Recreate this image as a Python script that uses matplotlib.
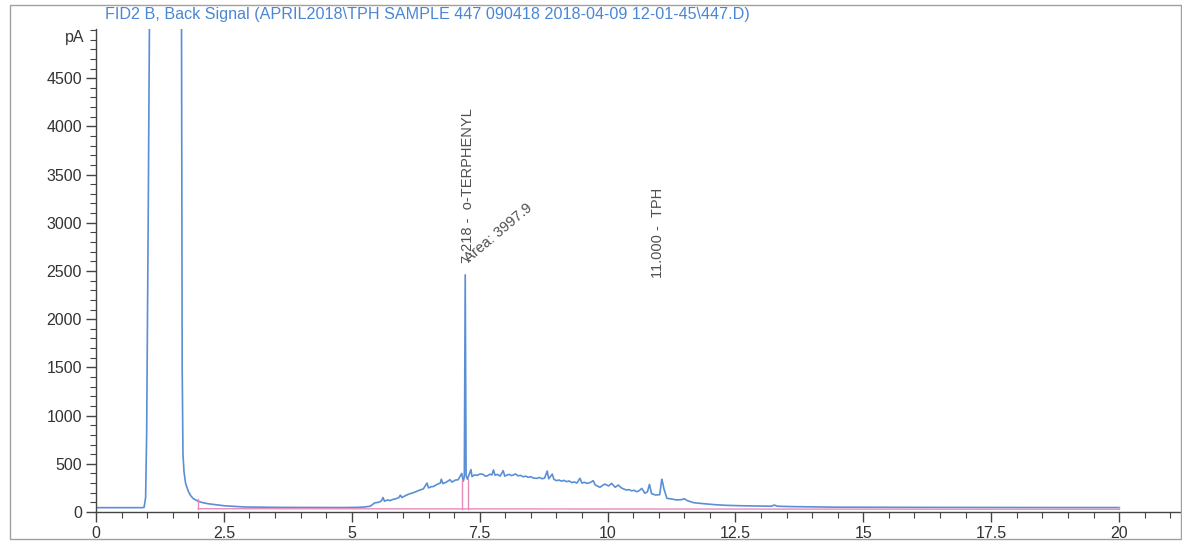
import matplotlib
matplotlib.use("Agg")
import matplotlib.pyplot as plt
from matplotlib.ticker import MultipleLocator, FixedLocator
from matplotlib.patches import Rectangle

plt.rcParams['font.family'] = ['Liberation Sans', 'DejaVu Sans']

# chromatogram trace (min, pA)
time = [0.00, 0.50, 0.90, 0.94, 0.97, 0.99, 1.02, 1.05, 1.67, 1.685, 1.70, 1.72,
        1.75, 1.80, 1.85, 1.90, 1.95, 2.00, 2.10, 2.20, 2.35, 2.50, 2.70, 2.90,
        3.20, 3.60, 4.00, 4.40, 4.80, 5.10, 5.25, 5.36, 5.45, 5.52, 5.58, 5.61,
        5.64, 5.70, 5.75, 5.80, 5.85, 5.92, 5.95, 5.98, 6.05, 6.10, 6.14, 6.20,
        6.26, 6.33, 6.40, 6.47, 6.50, 6.55, 6.60, 6.66, 6.73, 6.75, 6.78, 6.85,
        6.92, 6.96, 7.02, 7.08, 7.15, 7.18, 7.20, 7.218, 7.235, 7.26, 7.31, 7.33,
        7.35, 7.40, 7.45, 7.51, 7.57, 7.61, 7.65, 7.70, 7.74, 7.77, 7.80, 7.85,
        7.90, 7.96, 7.99, 8.04, 8.08, 8.12, 8.15, 8.20, 8.25, 8.30, 8.35, 8.40,
        8.45, 8.50, 8.55, 8.62, 8.67, 8.72, 8.77, 8.82, 8.85, 8.92, 8.95, 9.00,
        9.05, 9.10, 9.15, 9.20, 9.25, 9.30, 9.35, 9.40, 9.46, 9.50, 9.55, 9.60,
        9.66, 9.72, 9.76, 9.80, 9.85, 9.90, 9.95, 10.02, 10.08, 10.15, 10.21,
        10.27, 10.32, 10.37, 10.42, 10.47, 10.52, 10.57, 10.62, 10.67, 10.73,
        10.78, 10.82, 10.86, 10.94, 11.02, 11.06, 11.08, 11.10, 11.16, 11.25,
        11.35, 11.45, 11.50, 11.56, 11.68, 11.80, 11.94, 12.10, 12.33, 12.60,
        12.90, 13.20, 13.26, 13.32, 13.60, 14.00, 14.50, 15.00, 16.00, 17.00,
        18.00, 19.00, 20.00]
signal = [45, 45, 45, 48, 150, 800, 3000, 5500, 5500, 1500, 600, 420,
          300, 220, 170, 140, 125, 110, 95, 85, 75, 65, 58, 52,
          50, 48, 47, 46, 46, 48, 52, 60, 95, 100, 115, 150,
          112, 125, 118, 130, 135, 150, 175, 150, 170, 182, 190, 200,
          212, 228, 240, 300, 250, 262, 265, 285, 300, 340, 295, 310,
          335, 310, 330, 335, 400, 320, 360, 2460, 380, 340, 410, 440,
          367, 385, 380, 395, 390, 372, 375, 392, 385, 436, 382, 390,
          372, 429, 372, 385, 390, 378, 382, 395, 375, 380, 365, 372,
          360, 366, 352, 349, 358, 345, 352, 425, 345, 393, 340, 325,
          332, 320, 328, 315, 322, 305, 312, 300, 349, 300, 308, 297,
          305, 325, 280, 270, 256, 275, 290, 270, 297, 256, 280,
          250, 238, 228, 232, 220, 225, 210, 222, 245, 194,
          210, 287, 190, 176, 180, 339, 300, 245, 142, 135,
          125, 128, 138, 118, 97, 90, 83, 76, 69, 65,
          62, 60, 72, 60, 56, 53, 50, 49, 48, 47,
          46, 46, 46]

# integration baseline and peak drop lines
base_t = [2.0, 20.0]
base_v = [34, 28]
drop_t = [2.0, 7.16, 7.28, 20.0]
drop_top = [140, 330, 345, 50]

title = r"FID2 B, Back Signal (APRIL2018\TPH SAMPLE 447 090418 2018-04-09 12-01-45\447.D)"

W, H = 1182, 542
fig = plt.figure(figsize=(W / 100, H / 100), dpi=100)
ax = fig.add_axes([96 / W, 30 / H, 1086 / W, 483 / H])

trace_c = '#5a8fd6'
pink = '#e58cbc'

ax.plot(time, signal, color=trace_c, lw=1.2)
ax.plot(base_t, base_v, color=pink, lw=1.0)
for t, top in zip(drop_t, drop_top):
    b = base_v[0] + (base_v[1] - base_v[0]) * (t - base_t[0]) / (base_t[1] - base_t[0])
    ax.plot([t, t], [b, top], color=pink, lw=1.0)

ax.set_xlim(0, 21.23)
ax.set_ylim(0, 5010)

for s in ['top', 'right']:
    ax.spines[s].set_visible(False)
for s in ['left', 'bottom']:
    ax.spines[s].set_color('#444444')
    ax.spines[s].set_linewidth(1.0)

ax.xaxis.set_minor_locator(MultipleLocator(0.5))
ax.yaxis.set_major_locator(FixedLocator([0, 500, 1000, 1500, 2000, 2500, 3000, 3500, 4000, 4500]))
ax.yaxis.set_minor_locator(MultipleLocator(100))
ax.set_xticks([0, 2.5, 5, 7.5, 10, 12.5, 15, 17.5, 20])
ax.set_xticklabels(['0', '2.5', '5', '7.5', '10', '12.5', '15', '17.5', '20'])
ax.tick_params(which='major', direction='out', length=7, width=1.0, color='#444444',
               labelsize=11.5, labelcolor='#333333', pad=3)
ax.tick_params(which='minor', direction='out', length=4, width=0.8, color='#444444')

ax.annotate('pA', xy=(0, 4920), xycoords=('axes fraction', 'data'), xytext=(-12, 0),
            textcoords='offset pixels', ha='right', va='center', fontsize=11.5, color='#333333')

txt_c = '#505050'
ax.text(7.27, 2583, '7.218 -  o-TERPHENYL', rotation=90, ha='center', va='bottom',
        fontsize=10.5, color=txt_c)
ax.text(7.33, 2560, 'Area: 3997.9', rotation=40, rotation_mode='anchor', ha='left',
        va='bottom', fontsize=10.5, color=txt_c)
ax.text(10.99, 2427, '11.000 -  TPH', rotation=90, ha='center', va='bottom',
        fontsize=10.5, color=txt_c)

fig.text(105 / W, 1 - 14 / H, title, ha='left', va='center', fontsize=11.6, color='#4a86d6')

# scanned page frame
fig.patches.append(Rectangle((10 / W, 3 / H), 1 - 11 / W, 1 - 8 / H, transform=fig.transFigure,
                             fill=False, edgecolor='#a0a0a0', lw=1.0))

fig.savefig('out.png', dpi=100)
